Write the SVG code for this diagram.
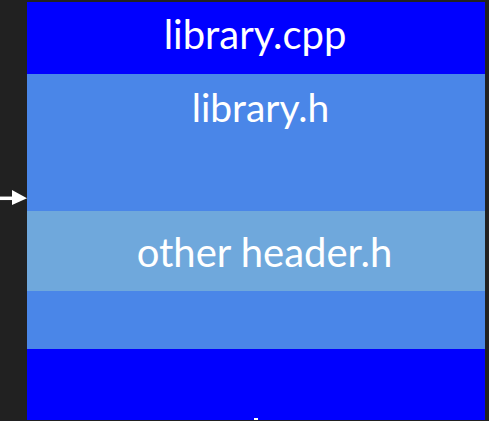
<svg xmlns="http://www.w3.org/2000/svg" width="489" height="421" viewBox="0 0 489 421">
<style>
.t{font-family:Lato,"Liberation Sans",sans-serif;fill:#ffffff;text-anchor:middle}
</style>
<rect x="0" y="0" width="489" height="421" fill="#212121"/>
<g id="library-cpp">
<rect x="27" y="2" width="458" height="418" fill="#0000ff"/>
<text class="t" x="255" y="48.5" font-size="40">library.cpp</text>
</g>
<g id="library-h">
<rect x="27" y="74" width="458" height="275" fill="#4a86e8"/>
<text class="t" x="260.5" y="122" font-size="39">library.h</text>
</g>
<g id="other-header">
<rect x="27" y="211" width="458" height="80" fill="#6fa8dc"/>
<text class="t" x="264.5" y="267.3" font-size="40">other header.h</text>
</g>
<rect x="254" y="418" width="4" height="2" fill="#ffffff"/>
<g id="connectors">
<line x1="0" y1="198.3" x2="13" y2="198.3" stroke="#ffffff" stroke-width="3.5"/>
<polygon points="12,190 27,198.3 12,205" fill="#ffffff"/>
</g>
</svg>
